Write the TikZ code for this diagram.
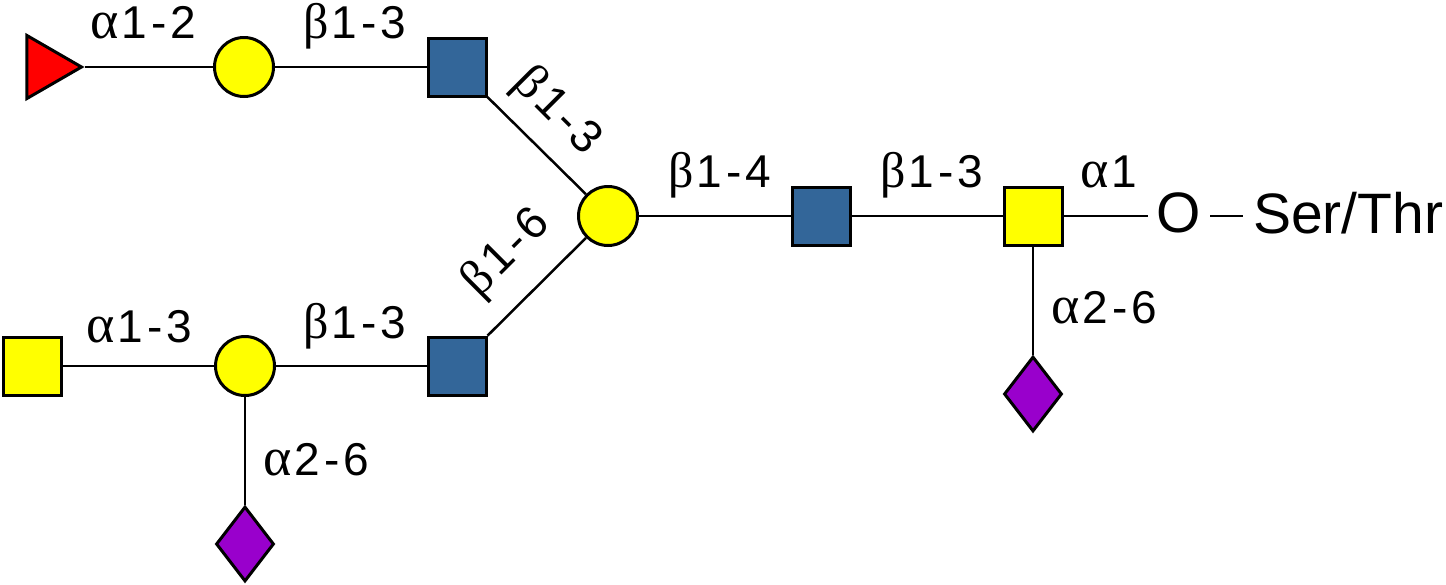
\documentclass[tikz,border=0pt]{standalone}
\usepackage{fontspec}
\setmainfont{Liberation Sans}
\newfontfamily\greekfont{Liberation Serif}
\usetikzlibrary{shapes.geometric}
\definecolor{glcblue}{HTML}{336699}
\definecolor{glcyellow}{HTML}{FFFF00}
\definecolor{glcred}{HTML}{FF0000}
\definecolor{glcpurple}{HTML}{9900CC}
\newcommand\gksp{\kern4pt}
\newcommand\myalpha{{\greekfont\fontsize{54}{60}\selectfont α}\kern3pt}
\newcommand\mybeta{{\greekfont\fontsize{50}{60}\selectfont β}\kern3pt}
\newcommand\lnk[3]{#1#2\gksp-\gksp#3}
\tikzset{
  sq/.style={rectangle, draw=black, line width=3pt, inner sep=0pt, minimum size=58pt},
  blsq/.style={sq, fill=glcblue},
  ylsq/.style={sq, fill=glcyellow},
  ylcirc/.style={circle, draw=black, line width=3pt, inner sep=0pt, minimum size=59pt, fill=glcyellow},
  dia/.style={diamond, draw=black, line width=3pt, inner sep=0pt, minimum width=58pt, minimum height=75pt, fill=glcpurple},
  tri/.style={regular polygon, regular polygon sides=3, shape border rotate=-90, draw=black, line width=3pt, inner sep=0pt, minimum size=73pt, fill=glcred},
  link/.style={line width=2.5pt, draw=black},
  lab/.style={font=\fontsize{46}{52}\selectfont, inner sep=0pt},
  big/.style={font=\fontsize{57}{64}\selectfont},
}
\begin{document}
\begin{tikzpicture}[x=1pt, y=-1pt]
\useasboundingbox (0,0) rectangle (1446,584);
% upper branch
\node[tri] (fuc) at (45,67) {};
\node[ylcirc] (gal1) at (244,67) {};
\node[blsq] (glc1) at (457,67) {};
% core
\node[ylcirc] (gal2) at (608,216) {};
\node[blsq] (glc2) at (821,216) {};
\node[ylsq] (galnac) at (1033,216) {};
\node[dia] (sia1) at (1033,394) {};
\node[big, inner xsep=9pt, inner ysep=0pt] (oxy) at (1179,213) {O};
\node[big, inner xsep=10pt, inner ysep=0pt, anchor=west] (ser) at (1243,213) {Ser/Thr};
% lower branch
\node[ylsq] (gal3) at (32,366) {};
\node[ylcirc] (gal4) at (245,366) {};
\node[blsq] (glc3) at (457,366) {};
\node[dia] (sia2) at (245,544) {};
% connectors
\draw[link] (fuc) -- (gal1);
\draw[link] (gal1) -- (glc1);
\draw[link] (glc1) -- (gal2);
\draw[link] (glc3) -- (gal2);
\draw[link] (gal2) -- (glc2);
\draw[link] (glc2) -- (galnac);
\draw[link] (galnac) -- (galnac -| oxy.west);
\draw[link] (oxy.east |- galnac) -- (ser.west |- galnac);
\draw[link] (galnac) -- (sia1);
\draw[link] (gal3) -- (gal4);
\draw[link] (gal4) -- (glc3);
\draw[link] (gal4) -- (sia2);
% labels
\node[lab, anchor=base west] (l1) at (90,38) {\lnk{\myalpha}{1}{2}};
\node[lab, anchor=base west] (l2) at (303,38) {\lnk{\mybeta}{1}{3}};
\node[lab, rotate=-45] (l3) at (557,112) {\lnk{\mybeta}{1}{3}};
\node[lab, rotate=45] (l4) at (507,253) {\lnk{\mybeta}{1}{6}};
\node[lab, anchor=base west] (l5) at (668,187) {\lnk{\mybeta}{1}{4}};
\node[lab, anchor=base west] (l6) at (880,187) {\lnk{\mybeta}{1}{3}};
\node[lab, anchor=base west] (l7) at (1080,187) {\myalpha1};
\node[lab, anchor=base west] (l8) at (1051,323) {\lnk{\myalpha}{2}{6}};
\node[lab, anchor=base west] (l9) at (86,342) {\lnk{\myalpha}{1}{3}};
\node[lab, anchor=base west] (l10) at (303,338) {\lnk{\mybeta}{1}{3}};
\node[lab, anchor=base west] (l11) at (263,475) {\lnk{\myalpha}{2}{6}};
\end{tikzpicture}
\end{document}
